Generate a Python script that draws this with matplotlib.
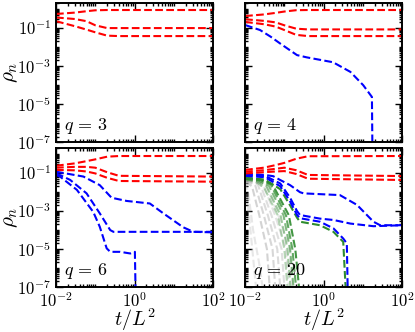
import numpy as np
import matplotlib
matplotlib.use("Agg")
import matplotlib.pyplot as plt
from matplotlib.ticker import LogLocator, FixedLocator, FuncFormatter, NullFormatter

plt.rcParams['mathtext.fontset'] = 'cm'
plt.rcParams['font.family'] = ['DejaVu Serif']
plt.rcParams['lines.dashed_pattern'] = [3.7, 1.6]

# ---------------- data ----------------
t_grid = [0.01, 0.03, 0.06, 0.1, 0.2, 0.4, 100]

# q = 3
q3_red = [
    [0.55, 0.65, 0.77, 0.86, 0.89, 0.89, 0.89],
    [0.36, 0.30, 0.23, 0.14, 0.10, 0.10, 0.10],
    [0.23, 0.126, 0.083, 0.060, 0.040, 0.038, 0.038],
]

# q = 4
q4_red = [
    [0.43, 0.52, 0.63, 0.74, 0.87, 0.89, 0.89],
    [0.29, 0.24, 0.20, 0.14, 0.093, 0.085, 0.085],
    [0.21, 0.16, 0.12, 0.079, 0.044, 0.038, 0.038],
]
q4_blue_t = [0.01, 0.024, 0.045, 0.078, 0.21, 0.37, 1.74, 4.8, 10.2, 17, 17.8]
q4_blue = [0.145, 0.079, 0.035, 0.0155, 0.0038, 0.0029, 0.0016, 5e-4, 1e-4, 2.4e-5, 1e-9]

# q = 6
q6_red = [
    [0.24, 0.32, 0.42, 0.52, 0.72, 0.78, 0.78],
    [0.19, 0.21, 0.21, 0.19, 0.11, 0.071, 0.065],
    [0.145, 0.138, 0.12, 0.095, 0.056, 0.038, 0.035],
]
q6_blue_t = [
    [0.01, 0.05, 0.13, 0.26, 0.63, 2.45, 5.4, 17.4, 31.6, 100],
    [0.01, 0.015, 0.023, 0.06, 0.13, 0.24, 0.29, 100],
    [0.01, 0.0126, 0.034, 0.089, 0.13, 0.195, 0.24, 0.43, 0.78, 1.02, 1.1],
]
q6_blue = [
    [0.117, 0.065, 0.023, 0.005, 0.0034, 0.0025, 7.6e-4, 1.4e-4, 8.1e-5, 7.6e-5],
    [0.095, 0.066, 0.043, 0.0085, 7.6e-4, 1e-4, 8.1e-5, 8.1e-5],
    [0.079, 0.065, 0.013, 8.9e-4, 1.5e-4, 1.1e-5, 7.2e-6, 7.2e-6, 5.9e-6, 7.2e-6, 1e-9],
]

# q = 20
q20_red = [
    [0.145, 0.19, 0.26, 0.34, 0.56, 0.76, 0.78],
    [0.117, 0.14, 0.166, 0.19, 0.14, 0.079, 0.069],
    [0.095, 0.11, 0.12, 0.126, 0.089, 0.05, 0.043],
]
q20_blue_t = [
    [0.01, 0.032, 0.052, 0.078, 0.14, 0.25, 0.31, 2.6, 7.1, 18.6, 27.5, 100],
    [0.01, 0.032, 0.079, 0.14, 0.21, 0.25, 0.81, 1.78, 4.8, 18.6, 100],
    [0.01, 0.032, 0.079, 0.14, 0.21, 0.25, 0.81, 1.78, 3.16, 3.9, 4.27],
]
q20_blue = [
    [0.089, 0.079, 0.068, 0.043, 0.023, 0.0098, 0.0085, 0.0069, 0.0021, 2.75e-4, 1.8e-4, 1.8e-4],
    [0.079, 0.071, 0.028, 0.005, 0.001, 6.2e-4, 4.0e-4, 3.4e-4, 2.2e-4, 1.6e-4, 1.8e-4],
    [0.071, 0.060, 0.020, 0.0032, 6.3e-4, 4.2e-4, 2.75e-4, 1.23e-4, 3.6e-5, 2.0e-5, 1e-9],
]
q20_green_t = [
    [0.01, 0.032, 0.079, 0.14, 0.21, 0.25, 0.81, 1.78, 3.16, 4.07],
    [0.01, 0.025, 0.05, 0.13, 0.19, 0.25],
    [0.01, 0.025, 0.045, 0.11, 0.16, 0.21],
    [0.01, 0.022, 0.04, 0.095, 0.14, 0.18],
    [0.01, 0.02, 0.035, 0.08, 0.12, 0.15],
    [0.01, 0.018, 0.03, 0.068, 0.10, 0.125],
]
q20_green = [
    [0.056, 0.045, 0.014, 0.002, 4.5e-4, 2.75e-4, 1.8e-4, 8.1e-5, 2.4e-5, 1e-9],
    [0.056, 0.045, 0.025, 6e-4, 1e-5, 3e-8],
    [0.052, 0.042, 0.025, 6e-4, 1e-5, 3e-8],
    [0.050, 0.040, 0.022, 6e-4, 1e-5, 3e-8],
    [0.047, 0.038, 0.020, 6e-4, 1e-5, 3e-8],
    [0.045, 0.036, 0.018, 6e-4, 1e-5, 3e-8],
]
q20_gray_t = [
    [0.01, 0.015, 0.023, 0.036, 0.044],
    [0.01, 0.018, 0.03, 0.05, 0.061],
    [0.01, 0.021, 0.038, 0.066, 0.082],
    [0.01, 0.024, 0.047, 0.085, 0.105],
    [0.01, 0.028, 0.058, 0.11, 0.135],
    [0.01, 0.032, 0.07, 0.135, 0.165],
    [0.01, 0.011, 0.013, 0.017, 0.02],
    [0.01, 0.012, 0.016, 0.024, 0.03],
]
q20_gray = [
    [0.035, 0.02, 6e-4, 1e-5, 3e-8],
    [0.038, 0.024, 6e-4, 1e-5, 3e-8],
    [0.040, 0.026, 6e-4, 1e-5, 3e-8],
    [0.042, 0.028, 6e-4, 1e-5, 3e-8],
    [0.043, 0.030, 6e-4, 1e-5, 3e-8],
    [0.044, 0.032, 6e-4, 1e-5, 3e-8],
    [0.030, 0.006, 3e-4, 1e-6, 3e-8],
    [0.032, 0.01, 1e-4, 1e-6, 3e-8],
]

panel_labels = [r'$q\,=\,3$', r'$q\,=\,4$', r'$q\,=\,6$', r'$q\,=\,20$']
x_ticks = [1e-2, 1e0, 1e2]
y_ticks = [1e-7, 1e-5, 1e-3, 1e-1]

RED = '#ff0000'
BLUE = '#0000ff'
GREEN = '#2e8b2e'
LW = 1.5

fig, axes = plt.subplots(2, 2, figsize=(4.15, 3.32), dpi=100)
fig.subplots_adjust(left=0.135, right=0.969, top=0.99, bottom=0.135,
                    wspace=0.204, hspace=0.043)

def dashed(ax, t, r, color, alpha=1.0, lw=LW):
    ax.plot(t, r, ls='--', color=color, lw=lw, alpha=alpha)

ax = axes[0, 0]
for r in q3_red:
    dashed(ax, t_grid, r, RED)

ax = axes[0, 1]
dashed(ax, q4_blue_t, q4_blue, BLUE)
for r in q4_red:
    dashed(ax, t_grid, r, RED)

ax = axes[1, 0]
for tt, r in zip(q6_blue_t, q6_blue):
    dashed(ax, tt, r, BLUE)
for r in q6_red:
    dashed(ax, t_grid, r, RED)

ax = axes[1, 1]
gray_alpha = [0.55, 0.5, 0.45, 0.4, 0.35, 0.3, 0.3, 0.3]
for tt, r, a in zip(q20_gray_t, q20_gray, gray_alpha):
    dashed(ax, tt, r, '#b0b0b0', alpha=a)
green_alpha = [1.0, 0.9, 0.75, 0.6, 0.45, 0.35]
for tt, r, a in list(zip(q20_green_t, q20_green, green_alpha))[::-1]:
    dashed(ax, tt, r, GREEN, alpha=a)
for tt, r in list(zip(q20_blue_t, q20_blue))[::-1]:
    dashed(ax, tt, r, BLUE)
for r in q20_red:
    dashed(ax, t_grid, r, RED)

fmt = FuncFormatter(lambda v, p: r'$10^{%d}$' % int(round(np.log10(v))))
for i, ax in enumerate(axes.flat):
    ax.set_xscale('log')
    ax.set_yscale('log')
    ax.set_xlim(1e-2, 1e2)
    ax.set_ylim(1e-7, 2.0)
    ax.xaxis.set_major_locator(FixedLocator(x_ticks))
    ax.yaxis.set_major_locator(FixedLocator(y_ticks))
    ax.xaxis.set_minor_locator(LogLocator(base=10, subs=np.arange(1, 10), numticks=50))
    ax.yaxis.set_minor_locator(LogLocator(base=10, subs=np.arange(1, 10), numticks=50))
    ax.xaxis.set_minor_formatter(NullFormatter())
    ax.yaxis.set_minor_formatter(NullFormatter())
    ax.xaxis.set_major_formatter(fmt)
    ax.yaxis.set_major_formatter(fmt)
    ax.tick_params(which='both', direction='in', top=True, right=True,
                   labelsize=12, width=1.0)
    ax.tick_params(axis='x', which='major', pad=3.5)
    ax.tick_params(which='major', length=5)
    ax.tick_params(which='minor', length=2.5)
    for s in ax.spines.values():
        s.set_linewidth(1.4)
    ax.text(0.05, 0.12, panel_labels[i], transform=ax.transAxes,
            fontsize=13, ha='left', va='center')
    row, col = divmod(i, 2)
    if row == 0:
        ax.tick_params(labelbottom=False)
    else:
        ax.set_xlabel(r'$t/L^2$', fontsize=14.5)
        ax.xaxis.set_label_coords(0.5, -0.14)
    if col == 1:
        ax.tick_params(labelleft=False)
    else:
        ax.set_ylabel(r'$\rho_n$', fontsize=15)
        ax.yaxis.set_label_coords(-0.23, 0.5)

fig.savefig('out.png', dpi=100)
